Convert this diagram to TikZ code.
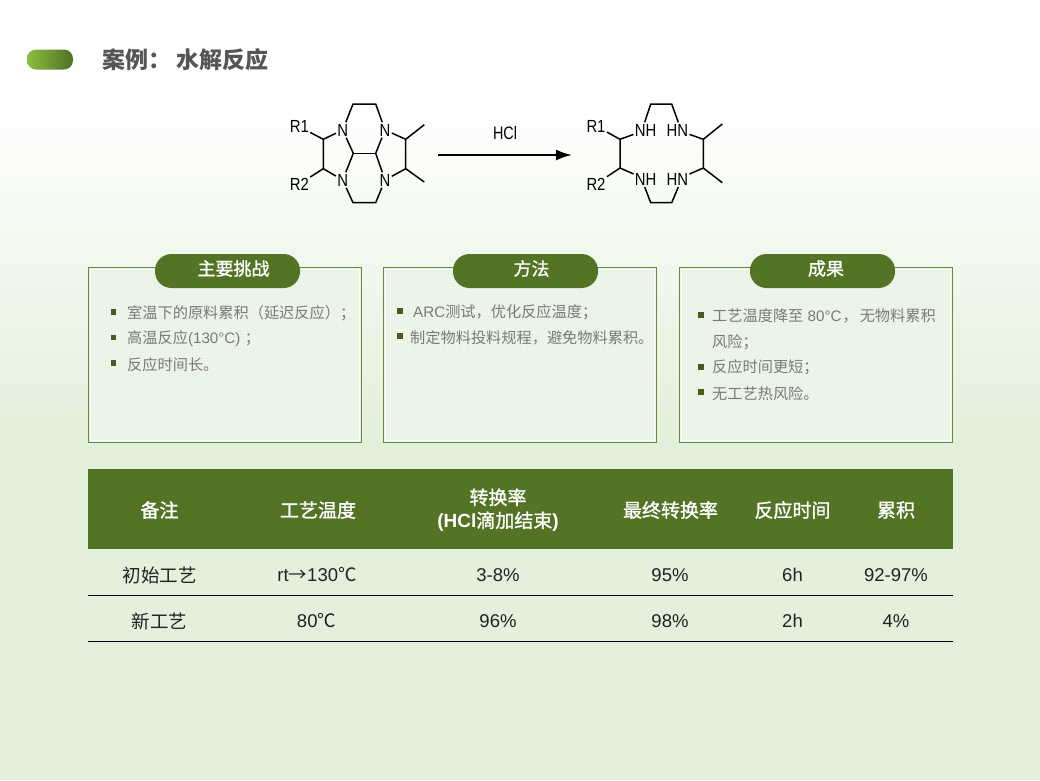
\documentclass[tikz,border=0pt]{standalone}
\usepackage{fontspec}
\setmainfont{Liberation Sans}
\newfontfamily\cjk{Noto Sans CJK SC}
\newfontfamily\cjkb[FakeBold=1.1]{Noto Sans CJK SC}
\newcommand{\zh}[1]{{\cjk #1}}
\newcommand{\zhb}[1]{{\mdseries\cjkb #1}}
\usetikzlibrary{arrows.meta}
\definecolor{dkgreen}{HTML}{537425}
\definecolor{edgegreen}{HTML}{628B3C}
\definecolor{tagleft}{HTML}{8DBD3F}
\definecolor{tagright}{HTML}{4F7026}
\definecolor{paleend}{HTML}{E3F0DB}
\definecolor{panelfill}{HTML}{E8F2E5}
\definecolor{bodygrey}{HTML}{7A7A7A}
\definecolor{titlegrey}{HTML}{555555}
\definecolor{cellink}{HTML}{222222}
\definecolor{bulletgreen}{HTML}{4A5A1E}
\tikzset{
  x=1pt,y=-1pt,
  atom/.style={font=\fontsize{17.5}{18}\selectfont,inner ysep=0pt,inner xsep=1.5pt,minimum width=14pt,minimum height=15pt,text=black,xscale=.85},
  bond/.style={line width=1.5pt,black,line join=round},
  panel/.style={draw=edgegreen,line width=1.1pt,fill=panelfill},
  weave/.style={white,opacity=.22,line width=.8pt},
  pill/.style={fill=dkgreen,rounded corners=16.5pt,minimum width=145pt,minimum height=34pt,inner sep=0pt},
  pilltext/.style={text=white,inner sep=0pt,font=\cjkb\fontsize{18}{18}\selectfont},
  body/.style={anchor=west,inner sep=0pt,text=bodygrey,font=\fontsize{15.2}{15}\selectfont},
  bul/.style={fill=bulletgreen,minimum size=5.5pt,inner sep=0pt},
  headcell/.style={text=white,font=\fontsize{19}{23}\selectfont\bfseries,align=center,inner sep=0pt},
  cell/.style={text=cellink,font=\fontsize{18.5}{20}\selectfont,inner sep=0pt},
  rowline/.style={line width=1.1pt,black},
}
\begin{document}
\begin{tikzpicture}
\useasboundingbox (0,0) rectangle (1040,780);
% background
\fill[white] (0,0) rectangle (1040,100);
\shade[top color=white,bottom color=paleend] (0,100) rectangle (1040,430);
\fill[paleend] (0,430) rectangle (1040,780);
% title
\node[left color=tagleft,right color=tagright,rounded corners=9pt,minimum width=46pt,minimum height=20pt,inner sep=0pt] (tag) at (50,59.5) {};
\node[anchor=west,inner sep=0pt,text=titlegrey,font=\cjk\bfseries\fontsize{23}{24}\selectfont] (title) at (102,60) {案例： 水解反应};
% left molecule
\node[atom] (a1) at (342.7,130) {N};
\node[atom] (a2) at (385,130) {N};
\node[atom] (a3) at (342.7,180) {N};
\node[atom] (a4) at (385,180) {N};
\node[atom] (r1) at (299.3,126.7) {R1};
\node[atom] (r2) at (299.3,184) {R2};
\foreach \n/\x/\y in {t1/353/104,t2/375.7/104,b1/353/202.7,b2/375.7/202.7,c1/353.3/153.3,c2/375.7/153.3,l1/323.3/139.3,l2/323.3/168.7,g1/405.7/139.3,g2/405.7/168.7,m1/424.3/124.7,m2/424.3/182}
  \coordinate (\n) at (\x,\y);
\draw[bond] (a1) -- (t1) -- (t2) -- (a2);
\draw[bond] (a3) -- (b1) -- (b2) -- (a4);
\draw[bond] (a1) -- (c1) -- (a3);
\draw[bond] (a2) -- (c2) -- (a4);
\draw[bond] (c1) -- (c2);
\draw[bond] (r1) -- (l1) -- (a1);
\draw[bond] (l1) -- (l2) -- (a3);
\draw[bond] (l2) -- (r2);
\draw[bond] (a2) -- (g1) -- (g2) -- (a4);
\draw[bond] (g1) -- (m1);
\draw[bond] (g2) -- (m2);
% arrow
\coordinate (arrA) at (438,155);
\coordinate (arrB) at (572,155);
\draw[line width=2.2pt,-{Latex[length=16pt,width=11pt]}] (arrA) -- (arrB);
\node[inner sep=0pt,font=\fontsize{18}{18}\selectfont,xscale=.8] (hcl) at (505,133) {HCl};
% right molecule
\node[atom] (p1) at (645.7,130) {NH};
\node[atom] (p2) at (677.3,130) {HN};
\node[atom] (p3) at (645.7,179.3) {NH};
\node[atom] (p4) at (677.3,179.3) {HN};
\node[atom] (q1) at (596,126) {R1};
\node[atom] (q2) at (596,184) {R2};
\foreach \n/\x/\y in {u1/650.7/104,u2/671.7/104,v1/650.7/202.7,v2/671.7/202.7,w1/620/139.3,w2/620/168,e1/703.3/139.3,e2/703.3/168,f1/722.3/124,f2/722.3/182.7}
  \coordinate (\n) at (\x,\y);
\draw[bond] ([xshift=-1pt]p1.north) -- (u1) -- (u2) -- ([xshift=1pt]p2.north);
\draw[bond] ([xshift=-1pt]p3.south) -- (v1) -- (v2) -- ([xshift=1pt]p4.south);
\draw[bond] (q1) -- (w1) -- (p1);
\draw[bond] (w1) -- (w2) -- (p3);
\draw[bond] (w2) -- (q2);
\draw[bond] (p2) -- (e1) -- (e2) -- (p4);
\draw[bond] (e1) -- (f1);
\draw[bond] (e2) -- (f2);
% panels
\foreach \x in {88.5,383.5,679.5}{
  \draw[panel] (\x,267.5) rectangle ++(273,175);
  \foreach \d in {4,7,...,268} \draw[weave] (\x+\d,270) -- ++(0,170);
  \foreach \d in {5,8,...,172} \draw[weave] (\x+3,267.5+\d) -- ++(267,0);
  \draw[white,line width=1.5pt] (\x+2,269.5) rectangle ++(269,171);
}
\node[pill] (h1) at (227.5,271) {};
\node[pill] (h2) at (525.5,271) {};
\node[pill] (h3) at (822.5,271) {};
\node[pilltext] (h1t) at (233.5,268.5) {主要挑战};
\node[pilltext] (h2t) at (531.5,268.5) {方法};
\node[pilltext] (h3t) at (826,268.5) {成果};
% panel 1
\node[bul] (b11) at (113.5,312) {};
\node[body] (t11) at (127,313) {\zh{室温下的原料累积（延迟反应）；}};
\node[bul] (b12) at (113.5,337.5) {};
\node[body] (t12) at (127,339) {\zh{高温反应}(130°C) \zh{；}};
\node[bul] (b13) at (113.5,363) {};
\node[body] (t13) at (127,365) {\zh{反应时间长。}};
% panel 2
\node[bul] (b21) at (400,311) {};
\node[body] (t21) at (413,312) {ARC\zh{测试，优化反应温度；}};
\node[bul] (b22) at (400,336) {};
\node[body] (t22) at (410,338) {\zh{制定物料投料规程，避免物料累积。}};
% panel 3
\node[bul] (b31) at (701,315) {};
\node[body] (t31) at (712,316) {\zh{工艺温度降至} 80°C\hspace{1pt}\zh{，\hspace{2pt}无物料累积}};
\node[body] (t31b) at (712,342) {\zh{风险；}};
\node[bul] (b32) at (701,367) {};
\node[body] (t32) at (712,367.5) {\zh{反应时间更短；}};
\node[bul] (b33) at (701,392) {};
\node[body] (t33) at (712,393.5) {\zh{无工艺热风险。}};
% table
\fill[dkgreen] (88,469) rectangle (953,549);
\node[headcell] (c1h) at (159.5,510) {\zhb{备注}};
\node[headcell] (c2h) at (318,510) {\zhb{工艺温度}};
\node[headcell] (c3h) at (498,510) {\zhb{转换率}\\(HCl\zhb{滴加结束})};
\node[headcell] (c4h) at (670.5,510) {\zhb{最终转换率}};
\node[headcell] (c5h) at (792.5,510) {\zhb{反应时间}};
\node[headcell] (c6h) at (896,510) {\zhb{累积}};
\node[cell] (r11) at (159.5,575) {\zh{初始工艺}};
\node[cell] (r12) at (317,575) {rt\zh{→}130\zh{℃}};
\node[cell] (r13) at (498,575) {3-8\%};
\node[cell] (r14) at (670,575) {95\%};
\node[cell] (r15) at (792.5,575) {6h};
\node[cell] (r16) at (896,575) {92-97\%};
\node[cell] (r21) at (159.5,621) {\zh{新工艺}};
\node[cell] (r22) at (316.5,621) {80\zh{℃}};
\node[cell] (r23) at (498,621) {96\%};
\node[cell] (r24) at (670,621) {98\%};
\node[cell] (r25) at (792.5,621) {2h};
\node[cell] (r26) at (896,621) {4\%};
\draw[rowline] (88,595.5) -- (953,595.5);
\draw[rowline] (88,641.5) -- (953,641.5);
\end{tikzpicture}
\end{document}
